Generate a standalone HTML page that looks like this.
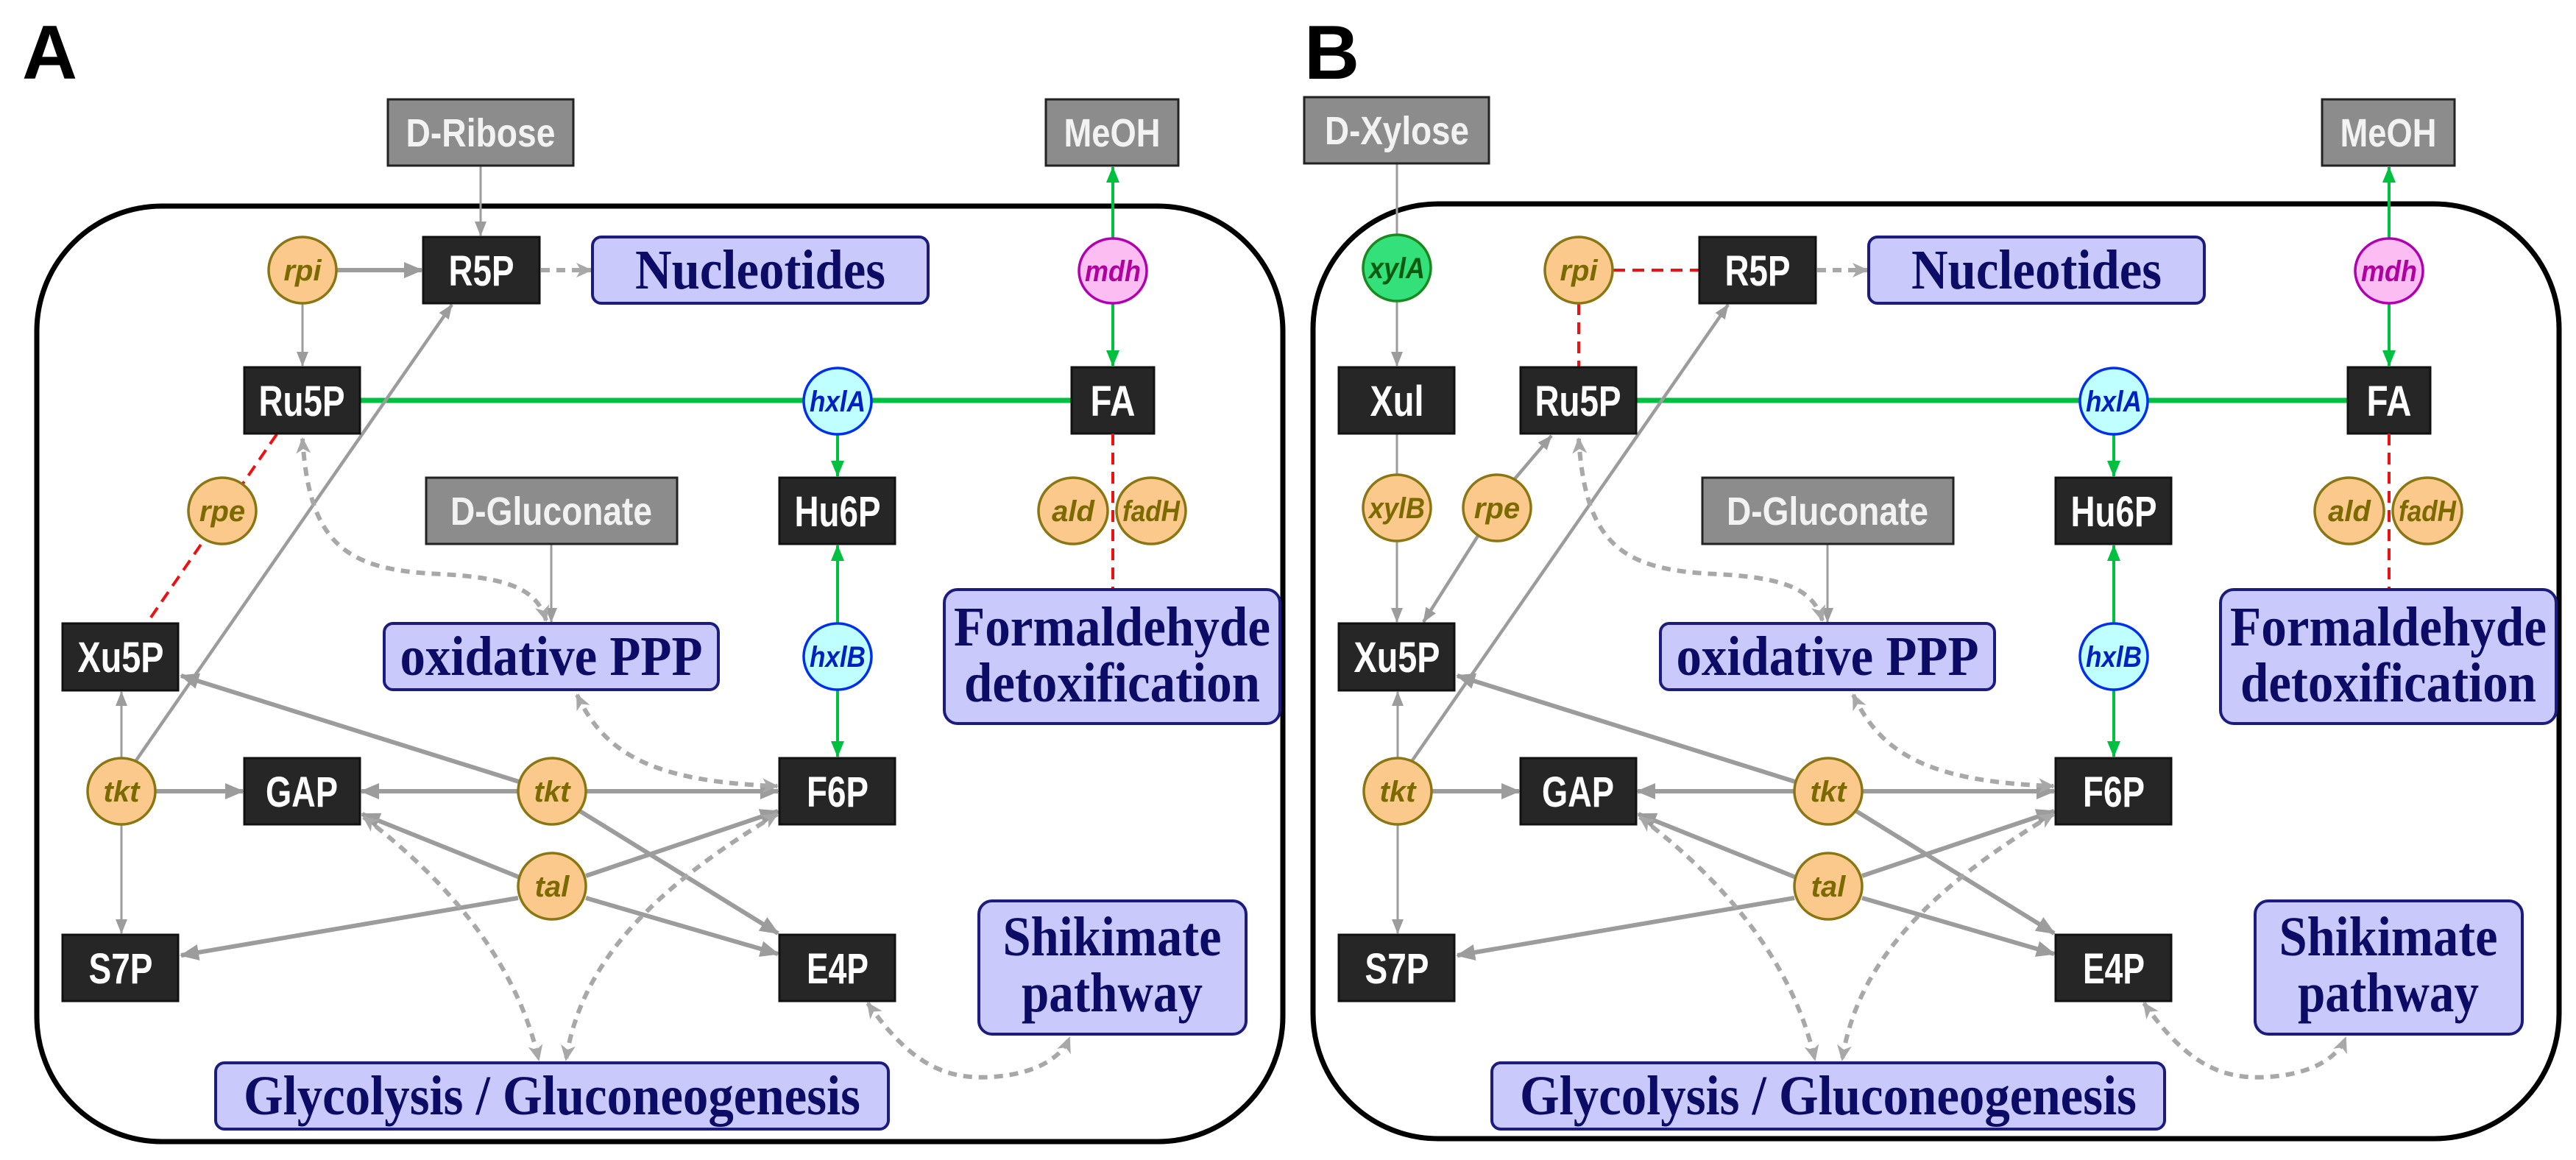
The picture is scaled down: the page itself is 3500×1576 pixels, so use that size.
<!DOCTYPE html>
<html><head><meta charset="utf-8"><style>
html,body{margin:0;padding:0;background:#fff;}
svg{display:block;}
.bk{fill:#262626;stroke:#111;stroke-width:3;}
.bt{fill:#fff;font-family:"Liberation Sans",sans-serif;font-weight:bold;font-size:58px;text-anchor:middle;}
.gy{fill:#8c8c8c;stroke:#222;stroke-width:3;}
.gt{fill:#f2f2f2;font-family:"Liberation Sans",sans-serif;font-weight:bold;font-size:54px;text-anchor:middle;}
.pu{fill:#c9c9fb;stroke:#1c1c80;stroke-width:4;}
.pt{fill:#0c0c66;font-family:"Liberation Serif",serif;font-weight:bold;font-size:76px;text-anchor:middle;}
.or{fill:#fbc98b;stroke:#8a7612;stroke-width:3.5;}
.ot{fill:#7a6a00;font-family:"Liberation Sans",sans-serif;font-weight:bold;font-style:italic;font-size:40px;text-anchor:middle;}
.g6{stroke:#9c9c9c;stroke-width:6;fill:none;}
.g4{stroke:#9c9c9c;stroke-width:4.5;fill:none;}
.g3{stroke:#9c9c9c;stroke-width:3;fill:none;}
.dg{stroke:#a8a8a8;stroke-width:6;fill:none;stroke-dasharray:12 9;}
.gr{stroke:#00c040;stroke-width:4;fill:none;}
.grt{stroke:#00c040;stroke-width:7;fill:none;}
.rd{stroke:#ee1111;stroke-width:4;fill:none;stroke-dasharray:16 10;}
.lbl{font-family:"Liberation Sans",sans-serif;font-weight:bold;font-size:104px;fill:#000;}
</style></head><body>
<svg width="3500" height="1576" viewBox="0 0 3500 1576" xmlns="http://www.w3.org/2000/svg">
<defs>
<marker id="ag" markerUnits="userSpaceOnUse" markerWidth="26" markerHeight="22" refX="24" refY="11" orient="auto-start-reverse"><path d="M0,0 L26,11 L0,22 Z" fill="#9c9c9c"/></marker>
<marker id="agt" markerUnits="userSpaceOnUse" markerWidth="20" markerHeight="16" refX="19" refY="8" orient="auto-start-reverse"><path d="M0,0 L20,8 L0,16 Z" fill="#9c9c9c"/></marker>
<marker id="ad" markerUnits="userSpaceOnUse" markerWidth="22" markerHeight="20" refX="20" refY="10" orient="auto-start-reverse"><path d="M0,0 L22,10 L0,20 L6,10 Z" fill="#a8a8a8"/></marker>
<marker id="agr" markerUnits="userSpaceOnUse" markerWidth="22" markerHeight="18" refX="21" refY="9" orient="auto-start-reverse"><path d="M0,0 L22,9 L0,18 Z" fill="#00c040"/></marker>
</defs>

<!-- ============ PANEL A ============ -->
<g>
<text class="lbl" x="30" y="107">A</text>
<rect x="50" y="280" width="1693" height="1271" rx="170" fill="none" stroke="#000" stroke-width="7"/>
<line class="g3" x1="653" y1="225" x2="653" y2="320" marker-end="url(#agt)"/>
<line class="g6" x1="458" y1="367" x2="573" y2="367" marker-end="url(#ag)"/>
<line class="g3" x1="411" y1="412" x2="411" y2="497" marker-end="url(#agt)"/>
<line class="dg" x1="735" y1="367" x2="803" y2="367" marker-end="url(#ad)"/>
<line class="gr" x1="1512" y1="323" x2="1512" y2="227" marker-end="url(#agr)"/>
<line class="gr" x1="1512" y1="413" x2="1512" y2="497" marker-end="url(#agr)"/>
<line class="grt" x1="489" y1="544" x2="1456" y2="544"/>
<line class="gr" x1="1138" y1="590" x2="1138" y2="647" marker-end="url(#agr)"/>
<line class="gr" x1="1138" y1="847" x2="1138" y2="741" marker-end="url(#agr)"/>
<line class="gr" x1="1138" y1="937" x2="1138" y2="1028" marker-end="url(#agr)"/>
<line class="rd" x1="376" y1="590" x2="200" y2="846"/>
<line class="g3" x1="749" y1="739" x2="749" y2="845" marker-end="url(#agt)"/>
<line class="g3" x1="165" y1="1030" x2="165" y2="940" marker-end="url(#agt)"/>
<line class="g3" x1="165" y1="1120" x2="165" y2="1268" marker-end="url(#agt)"/>
<line class="g6" x1="212" y1="1075" x2="330" y2="1075" marker-end="url(#ag)"/>
<line class="g4" x1="185" y1="1033" x2="614" y2="414" marker-end="url(#agt)"/>
<line class="g6" x1="703" y1="1075" x2="491" y2="1075" marker-end="url(#ag)"/>
<line class="g6" x1="797" y1="1075" x2="1057" y2="1075" marker-end="url(#ag)"/>
<line class="g6" x1="705" y1="1062" x2="246" y2="918" marker-end="url(#ag)"/>
<line class="g6" x1="788" y1="1102" x2="1057" y2="1268" marker-end="url(#ag)"/>
<line class="g6" x1="706" y1="1192" x2="492" y2="1106" marker-end="url(#ag)"/>
<line class="g6" x1="796" y1="1190" x2="1057" y2="1102" marker-end="url(#ag)"/>
<line class="g6" x1="704" y1="1220" x2="246" y2="1298" marker-end="url(#ag)"/>
<line class="g6" x1="796" y1="1220" x2="1057" y2="1296" marker-end="url(#ag)"/>
<path class="dg" d="M742,843 C730,800 690,785 600,780 C470,775 420,740 411,596" marker-end="url(#ad)" marker-start="url(#ad)"/>
<path class="dg" d="M784,944 C820,1020 880,1062 1056,1068" marker-end="url(#ad)" marker-start="url(#ad)"/>
<path class="dg" d="M494,1110 C600,1190 700,1300 732,1440" marker-end="url(#ad)" marker-start="url(#ad)"/>
<path class="dg" d="M1056,1106 C900,1200 790,1300 769,1440" marker-end="url(#ad)" marker-start="url(#ad)"/>
<path class="dg" d="M1179,1363 C1240,1450 1290,1470 1360,1462 C1420,1455 1445,1430 1453,1410" marker-end="url(#ad)" marker-start="url(#ad)"/>
<rect class="gy" x="527" y="135" width="252" height="90"/><text class="gt" x="653" y="199" textLength="203" lengthAdjust="spacingAndGlyphs">D-Ribose</text>
<rect class="gy" x="1421" y="135" width="180" height="90"/><text class="gt" x="1511" y="199" textLength="131" lengthAdjust="spacingAndGlyphs">MeOH</text>
<rect class="gy" x="579" y="649" width="341" height="90"/><text class="gt" x="749" y="713" textLength="274" lengthAdjust="spacingAndGlyphs">D-Gluconate</text>
<rect class="bk" x="575" y="322" width="158" height="90"/><text class="bt" x="654" y="388" textLength="89" lengthAdjust="spacingAndGlyphs">R5P</text>
<rect class="bk" x="332" y="499" width="157" height="90"/><text class="bt" x="410" y="565" textLength="117" lengthAdjust="spacingAndGlyphs">Ru5P</text>
<rect class="bk" x="1456" y="499" width="112" height="90"/><text class="bt" x="1512" y="565" textLength="61" lengthAdjust="spacingAndGlyphs">FA</text>
<rect class="bk" x="1059" y="649" width="157" height="90"/><text class="bt" x="1138" y="715" textLength="117" lengthAdjust="spacingAndGlyphs">Hu6P</text>
<rect class="bk" x="85" y="847" width="157" height="91"/><text class="bt" x="164" y="913" textLength="117" lengthAdjust="spacingAndGlyphs">Xu5P</text>
<rect class="bk" x="332" y="1030" width="157" height="90"/><text class="bt" x="410" y="1096" textLength="98" lengthAdjust="spacingAndGlyphs">GAP</text>
<rect class="bk" x="1059" y="1030" width="157" height="90"/><text class="bt" x="1138" y="1096" textLength="84" lengthAdjust="spacingAndGlyphs">F6P</text>
<rect class="bk" x="85" y="1270" width="157" height="90"/><text class="bt" x="164" y="1336" textLength="87" lengthAdjust="spacingAndGlyphs">S7P</text>
<rect class="bk" x="1059" y="1270" width="157" height="90"/><text class="bt" x="1138" y="1336" textLength="84" lengthAdjust="spacingAndGlyphs">E4P</text>
<ellipse class="or" cx="411" cy="367" rx="46" ry="45"/><text class="ot" x="411" y="381">rpi</text>
<ellipse cx="1512" cy="368" rx="46" ry="44" fill="#fbbdf2" stroke="#b000b0" stroke-width="3.5"/><text class="ot" x="1512" y="382" style="fill:#b000a0" textLength="76" lengthAdjust="spacingAndGlyphs">mdh</text>
<ellipse cx="1138" cy="545" rx="46" ry="45" fill="#bfffff" stroke="#0030ee" stroke-width="3.5"/><text class="ot" x="1138" y="559" style="fill:#0020c0" textLength="76" lengthAdjust="spacingAndGlyphs">hxlA</text>
<ellipse class="or" cx="302" cy="694" rx="46" ry="45"/><text class="ot" x="302" y="708">rpe</text>
<ellipse class="or" cx="1458" cy="694" rx="47" ry="45"/><text class="ot" x="1458" y="708">ald</text>
<ellipse class="or" cx="1564" cy="694" rx="47" ry="45"/><text class="ot" x="1564" y="708" textLength="78" lengthAdjust="spacingAndGlyphs">fadH</text>
<ellipse cx="1138" cy="892" rx="46" ry="45" fill="#bfffff" stroke="#0030ee" stroke-width="3.5"/><text class="ot" x="1138" y="906" style="fill:#0020c0" textLength="76" lengthAdjust="spacingAndGlyphs">hxlB</text>
<ellipse class="or" cx="165" cy="1075" rx="46" ry="45"/><text class="ot" x="165" y="1089">tkt</text>
<ellipse class="or" cx="750" cy="1075" rx="46" ry="45"/><text class="ot" x="750" y="1089">tkt</text>
<ellipse class="or" cx="750" cy="1204" rx="46" ry="45"/><text class="ot" x="750" y="1218">tal</text>
<line class="rd" x1="1512" y1="589" x2="1512" y2="800"/>
<rect class="pu" x="805" y="322" width="456" height="90" rx="12"/><text class="pt" x="1033" y="392" textLength="340" lengthAdjust="spacingAndGlyphs">Nucleotides</text>
<rect class="pu" x="522" y="847" width="454" height="90" rx="12"/><text class="pt" x="749" y="917" textLength="411" lengthAdjust="spacingAndGlyphs">oxidative PPP</text>
<rect class="pu" x="1283" y="801" width="456" height="182" rx="18"/><text class="pt" x="1511" y="877" textLength="430" lengthAdjust="spacingAndGlyphs">Formaldehyde</text><text class="pt" x="1511" y="953" textLength="402" lengthAdjust="spacingAndGlyphs">detoxification</text>
<rect class="pu" x="1330" y="1224" width="363" height="181" rx="18"/><text class="pt" x="1511" y="1298" textLength="297" lengthAdjust="spacingAndGlyphs">Shikimate</text><text class="pt" x="1511" y="1374" textLength="246" lengthAdjust="spacingAndGlyphs">pathway</text>
<rect class="pu" x="293" y="1444" width="914" height="90" rx="12"/><text class="pt" x="750" y="1514" textLength="838" lengthAdjust="spacingAndGlyphs">Glycolysis / Gluconeogenesis</text>
</g>

<!-- ============ PANEL B ============ -->
<g transform="translate(1734,0)">
<text class="lbl" x="38" y="107">B</text>
<rect x="50" y="277" width="1693" height="1270" rx="170" fill="none" stroke="#000" stroke-width="7"/>
<line class="g3" x1="164" y1="222" x2="164" y2="320"/>
<line class="g3" x1="164" y1="409" x2="164" y2="497" marker-end="url(#agt)"/>
<line class="g3" x1="164" y1="586" x2="164" y2="645"/>
<line class="g3" x1="164" y1="735" x2="164" y2="845" marker-end="url(#agt)"/>
<line class="rd" x1="458" y1="367" x2="575" y2="367"/>
<line class="rd" x1="411" y1="412" x2="411" y2="499"/>
<line class="dg" x1="735" y1="367" x2="803" y2="367" marker-end="url(#ad)"/>
<line class="gr" x1="1512" y1="323" x2="1512" y2="227" marker-end="url(#agr)"/>
<line class="gr" x1="1512" y1="413" x2="1512" y2="497" marker-end="url(#agr)"/>
<line class="grt" x1="489" y1="544" x2="1456" y2="544"/>
<line class="gr" x1="1138" y1="590" x2="1138" y2="647" marker-end="url(#agr)"/>
<line class="gr" x1="1138" y1="847" x2="1138" y2="741" marker-end="url(#agr)"/>
<line class="gr" x1="1138" y1="937" x2="1138" y2="1028" marker-end="url(#agr)"/>
<line class="g4" x1="276" y1="725" x2="200" y2="845" marker-end="url(#agt)"/>
<line class="g4" x1="322" y1="653" x2="374" y2="592" marker-end="url(#agt)"/>
<line class="g3" x1="749" y1="739" x2="749" y2="845" marker-end="url(#agt)"/>
<line class="g3" x1="165" y1="1030" x2="165" y2="940" marker-end="url(#agt)"/>
<line class="g3" x1="165" y1="1120" x2="165" y2="1268" marker-end="url(#agt)"/>
<line class="g6" x1="212" y1="1075" x2="330" y2="1075" marker-end="url(#ag)"/>
<line class="g4" x1="185" y1="1033" x2="614" y2="414" marker-end="url(#agt)"/>
<line class="g6" x1="703" y1="1075" x2="491" y2="1075" marker-end="url(#ag)"/>
<line class="g6" x1="797" y1="1075" x2="1057" y2="1075" marker-end="url(#ag)"/>
<line class="g6" x1="705" y1="1062" x2="246" y2="918" marker-end="url(#ag)"/>
<line class="g6" x1="788" y1="1102" x2="1057" y2="1268" marker-end="url(#ag)"/>
<line class="g6" x1="706" y1="1192" x2="492" y2="1106" marker-end="url(#ag)"/>
<line class="g6" x1="796" y1="1190" x2="1057" y2="1102" marker-end="url(#ag)"/>
<line class="g6" x1="704" y1="1220" x2="246" y2="1298" marker-end="url(#ag)"/>
<line class="g6" x1="796" y1="1220" x2="1057" y2="1296" marker-end="url(#ag)"/>
<path class="dg" d="M742,843 C730,800 690,785 600,780 C470,775 420,740 411,596" marker-end="url(#ad)" marker-start="url(#ad)"/>
<path class="dg" d="M784,944 C820,1020 880,1062 1056,1068" marker-end="url(#ad)" marker-start="url(#ad)"/>
<path class="dg" d="M494,1110 C600,1190 700,1300 732,1440" marker-end="url(#ad)" marker-start="url(#ad)"/>
<path class="dg" d="M1056,1106 C900,1200 790,1300 769,1440" marker-end="url(#ad)" marker-start="url(#ad)"/>
<path class="dg" d="M1179,1363 C1240,1450 1290,1470 1360,1462 C1420,1455 1445,1430 1453,1410" marker-end="url(#ad)" marker-start="url(#ad)"/>
<rect class="gy" x="38" y="132" width="251" height="90"/><text class="gt" x="164" y="196" textLength="196" lengthAdjust="spacingAndGlyphs">D-Xylose</text>
<rect class="gy" x="1421" y="135" width="180" height="90"/><text class="gt" x="1511" y="199" textLength="131" lengthAdjust="spacingAndGlyphs">MeOH</text>
<rect class="gy" x="579" y="649" width="341" height="90"/><text class="gt" x="749" y="713" textLength="274" lengthAdjust="spacingAndGlyphs">D-Gluconate</text>
<rect class="bk" x="575" y="322" width="158" height="90"/><text class="bt" x="654" y="388" textLength="89" lengthAdjust="spacingAndGlyphs">R5P</text>
<rect class="bk" x="85" y="499" width="157" height="90"/><text class="bt" x="164" y="565" textLength="73" lengthAdjust="spacingAndGlyphs">Xul</text>
<rect class="bk" x="332" y="499" width="157" height="90"/><text class="bt" x="410" y="565" textLength="117" lengthAdjust="spacingAndGlyphs">Ru5P</text>
<rect class="bk" x="1456" y="499" width="112" height="90"/><text class="bt" x="1512" y="565" textLength="61" lengthAdjust="spacingAndGlyphs">FA</text>
<rect class="bk" x="1059" y="649" width="157" height="90"/><text class="bt" x="1138" y="715" textLength="117" lengthAdjust="spacingAndGlyphs">Hu6P</text>
<rect class="bk" x="85" y="847" width="157" height="91"/><text class="bt" x="164" y="913" textLength="117" lengthAdjust="spacingAndGlyphs">Xu5P</text>
<rect class="bk" x="332" y="1030" width="157" height="90"/><text class="bt" x="410" y="1096" textLength="98" lengthAdjust="spacingAndGlyphs">GAP</text>
<rect class="bk" x="1059" y="1030" width="157" height="90"/><text class="bt" x="1138" y="1096" textLength="84" lengthAdjust="spacingAndGlyphs">F6P</text>
<rect class="bk" x="85" y="1270" width="157" height="90"/><text class="bt" x="164" y="1336" textLength="87" lengthAdjust="spacingAndGlyphs">S7P</text>
<rect class="bk" x="1059" y="1270" width="157" height="90"/><text class="bt" x="1138" y="1336" textLength="84" lengthAdjust="spacingAndGlyphs">E4P</text>
<ellipse cx="164" cy="364" rx="46" ry="45" fill="#33e07a" stroke="#1a8a20" stroke-width="3.5"/><text class="ot" x="164" y="378" style="fill:#0a5a10" textLength="76" lengthAdjust="spacingAndGlyphs">xylA</text>
<ellipse class="or" cx="411" cy="367" rx="46" ry="45"/><text class="ot" x="411" y="381">rpi</text>
<ellipse cx="1512" cy="368" rx="46" ry="44" fill="#fbbdf2" stroke="#b000b0" stroke-width="3.5"/><text class="ot" x="1512" y="382" style="fill:#b000a0" textLength="76" lengthAdjust="spacingAndGlyphs">mdh</text>
<ellipse cx="1138" cy="545" rx="46" ry="45" fill="#bfffff" stroke="#0030ee" stroke-width="3.5"/><text class="ot" x="1138" y="559" style="fill:#0020c0" textLength="76" lengthAdjust="spacingAndGlyphs">hxlA</text>
<ellipse class="or" cx="164" cy="690" rx="46" ry="45"/><text class="ot" x="164" y="704" textLength="76" lengthAdjust="spacingAndGlyphs">xylB</text>
<ellipse class="or" cx="300" cy="690" rx="46" ry="45"/><text class="ot" x="300" y="704">rpe</text>
<ellipse class="or" cx="1458" cy="694" rx="47" ry="45"/><text class="ot" x="1458" y="708">ald</text>
<ellipse class="or" cx="1564" cy="694" rx="47" ry="45"/><text class="ot" x="1564" y="708" textLength="78" lengthAdjust="spacingAndGlyphs">fadH</text>
<ellipse cx="1138" cy="892" rx="46" ry="45" fill="#bfffff" stroke="#0030ee" stroke-width="3.5"/><text class="ot" x="1138" y="906" style="fill:#0020c0" textLength="76" lengthAdjust="spacingAndGlyphs">hxlB</text>
<ellipse class="or" cx="165" cy="1075" rx="46" ry="45"/><text class="ot" x="165" y="1089">tkt</text>
<ellipse class="or" cx="750" cy="1075" rx="46" ry="45"/><text class="ot" x="750" y="1089">tkt</text>
<ellipse class="or" cx="750" cy="1204" rx="46" ry="45"/><text class="ot" x="750" y="1218">tal</text>
<line class="rd" x1="1512" y1="589" x2="1512" y2="800"/>
<rect class="pu" x="805" y="322" width="456" height="90" rx="12"/><text class="pt" x="1033" y="392" textLength="340" lengthAdjust="spacingAndGlyphs">Nucleotides</text>
<rect class="pu" x="522" y="847" width="454" height="90" rx="12"/><text class="pt" x="749" y="917" textLength="411" lengthAdjust="spacingAndGlyphs">oxidative PPP</text>
<rect class="pu" x="1283" y="801" width="456" height="182" rx="18"/><text class="pt" x="1511" y="877" textLength="430" lengthAdjust="spacingAndGlyphs">Formaldehyde</text><text class="pt" x="1511" y="953" textLength="402" lengthAdjust="spacingAndGlyphs">detoxification</text>
<rect class="pu" x="1330" y="1224" width="363" height="181" rx="18"/><text class="pt" x="1511" y="1298" textLength="297" lengthAdjust="spacingAndGlyphs">Shikimate</text><text class="pt" x="1511" y="1374" textLength="246" lengthAdjust="spacingAndGlyphs">pathway</text>
<rect class="pu" x="293" y="1444" width="914" height="90" rx="12"/><text class="pt" x="750" y="1514" textLength="838" lengthAdjust="spacingAndGlyphs">Glycolysis / Gluconeogenesis</text>
</g>
</svg>
</body></html>
